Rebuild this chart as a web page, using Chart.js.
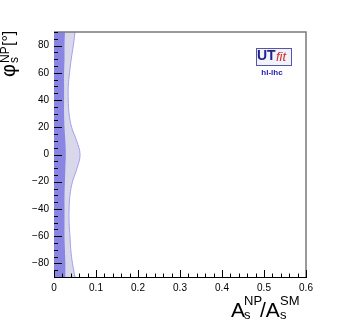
<!DOCTYPE html>
<html>
<head>
<meta charset="utf-8">
<script src="https://cdn.jsdelivr.net/npm/chart.js@4/dist/chart.umd.min.js"></script>
<style>
  html, body { margin: 0; padding: 0; background: #fff; }
  #wrap { width: 341px; height: 327px; position: relative; }
</style>
</head>
<body>
<div id="wrap"><canvas id="c"></canvas></div>
<script>
// phi_s^NP values (degrees) along the contour
const phiValues = [-90, -80, -70, -60, -50, -40, -30, -20, -10, 0, 10, 20, 30, 40, 50, 60, 70, 80, 90];
// outer (95%) contour edge, A_s^NP/A_s^SM
const outerEdge = [0.050, 0.044, 0.040, 0.038, 0.036, 0.036, 0.038, 0.044, 0.055, 0.062, 0.054, 0.042, 0.036, 0.034, 0.034, 0.037, 0.041, 0.046, 0.050];
// inner (68%) contour edge
const innerEdge = [0.027, 0.027, 0.026, 0.025, 0.025, 0.025, 0.025, 0.026, 0.027, 0.028, 0.027, 0.025, 0.024, 0.024, 0.024, 0.024, 0.025, 0.025, 0.026];

const xTickLabels = [0, 0.1, 0.2, 0.3, 0.4, 0.5, 0.6];
const yTickLabels = [-80, -60, -40, -20, 0, 20, 40, 60, 80];

const FONT = '"Liberation Sans", Arial, sans-serif';

// ROOT style frame: ticks inside, titles, logo
const rootStyle = {
    id: 'rootStyle',
    afterDraw(chart) {
        const ctx = chart.ctx;
        const a = chart.chartArea;
        const xs = chart.scales.x, ys = chart.scales.y;
        ctx.save();

        // top and right frame
        ctx.strokeStyle = '#7a7a7a';
        ctx.lineWidth = 1.5;
        ctx.beginPath();
        ctx.moveTo(a.left, a.top);
        ctx.lineTo(a.right, a.top);
        ctx.lineTo(a.right, a.bottom);
        ctx.stroke();

        // inner ticks
        ctx.strokeStyle = '#000';
        ctx.lineWidth = 1;
        ctx.beginPath();
        for (let i = 0; i <= 30; i++) {
            const v = i * 0.02;
            const px = Math.round(xs.getPixelForValue(v)) + 0.5;
            const len = (i % 5 === 0) ? 7 : 3.5;
            ctx.moveTo(px, a.bottom);
            ctx.lineTo(px, a.bottom - len);
        }
        for (let v = -90; v <= 90; v += 5) {
            const py = Math.round(ys.getPixelForValue(v)) + 0.5;
            const len = (yTickLabels.includes(v)) ? 8 : 4;
            ctx.moveTo(a.left, py);
            ctx.lineTo(a.left + len, py);
        }
        ctx.stroke();

        ctx.fillStyle = '#000';
        ctx.textBaseline = 'alphabetic';
        ctx.textAlign = 'left';

        // y title: phi_s^NP [o], rotated
        ctx.save();
        ctx.translate(15, 77);
        ctx.rotate(-Math.PI / 2);
        ctx.font = '20px ' + FONT;
        ctx.fillText('\u03C6', 0, 0);
        ctx.font = '12px ' + FONT;
        ctx.fillText('NP', 14, -6);
        ctx.fillText('s', 14, 3);
        ctx.font = '16px ' + FONT;
        ctx.fillText('[\u00B0]', 31, -1);
        ctx.restore();

        // x title: A_s^NP / A_s^SM
        ctx.font = '21px ' + FONT;
        ctx.fillText('A', 231, 317);
        ctx.font = '13px ' + FONT;
        ctx.fillText('NP', 244, 305);
        ctx.fillText('s', 244, 319);
        ctx.font = '21px ' + FONT;
        ctx.fillText('/A', 260, 317);
        ctx.font = '13px ' + FONT;
        ctx.fillText('SM', 280, 305);
        ctx.fillText('s', 280, 319);

        // UTfit logo
        ctx.fillStyle = '#f2f2fb';
        ctx.fillRect(256, 48, 36, 18);
        ctx.strokeStyle = '#5656a8';
        ctx.lineWidth = 1;
        ctx.strokeRect(256.5, 48.5, 35, 17);
        ctx.fillStyle = '#22228a';
        ctx.font = 'bold 14px ' + FONT;
        ctx.fillText('UT', 257, 60);
        ctx.fillStyle = '#d02a2a';
        ctx.font = 'italic 13px ' + FONT;
        ctx.fillText('fit', 276, 61);
        ctx.fillStyle = '#1a1ab0';
        ctx.font = 'bold 8px ' + FONT;
        ctx.textAlign = 'center';
        ctx.fillText('hl-lhc', 272, 75);

        ctx.restore();
    }
};

new Chart(document.getElementById('c'), {
    type: 'line',
    data: {
        datasets: [
            {
                label: '68%',
                data: phiValues.map((p, i) => ({ x: innerEdge[i], y: p })),
                fill: 'origin',
                backgroundColor: '#8a84e2',
                borderColor: '#8a84e2',
                borderWidth: 0,
                pointRadius: 0,
                tension: 0.4
            },
            {
                label: '95%',
                data: phiValues.map((p, i) => ({ x: outerEdge[i], y: p })),
                fill: 'origin',
                backgroundColor: '#d8d8ea',
                borderColor: '#a29fee',
                borderWidth: 1,
                pointRadius: 0,
                tension: 0.4
            }
        ]
    },
    options: {
        indexAxis: 'y',
        responsive: true,
        maintainAspectRatio: false,
        animation: false,
        layout: { padding: { top: 32, right: 35, left: 0, bottom: 0 } },
        plugins: {
            legend: { display: false },
            tooltip: { enabled: false }
        },
        scales: {
            x: {
                type: 'linear',
                min: 0,
                max: 0.6,
                afterBuildTicks: s => { s.ticks = xTickLabels.map(v => ({ value: v })); },
                afterFit: s => { s.height = 50; },
                grid: { display: false, drawTicks: false },
                border: { color: '#000', width: 1 },
                ticks: {
                    padding: 5,
                    maxRotation: 0,
                    color: '#000',
                    font: { family: FONT, size: 10 },
                    callback: v => v === 0 ? '0' : v.toFixed(1)
                }
            },
            y: {
                type: 'linear',
                min: -90,
                max: 90,
                afterBuildTicks: s => { s.ticks = yTickLabels.map(v => ({ value: v })); },
                afterFit: s => { s.width = 54; },
                grid: { display: false, drawTicks: false },
                border: { color: '#000', width: 1 },
                ticks: {
                    padding: 5,
                    color: '#000',
                    font: { family: FONT, size: 10 },
                    callback: v => v < 0 ? '\u2212' + Math.abs(v) : String(v)
                }
            }
        }
    },
    plugins: [rootStyle]
});
</script>
</body>
</html>
